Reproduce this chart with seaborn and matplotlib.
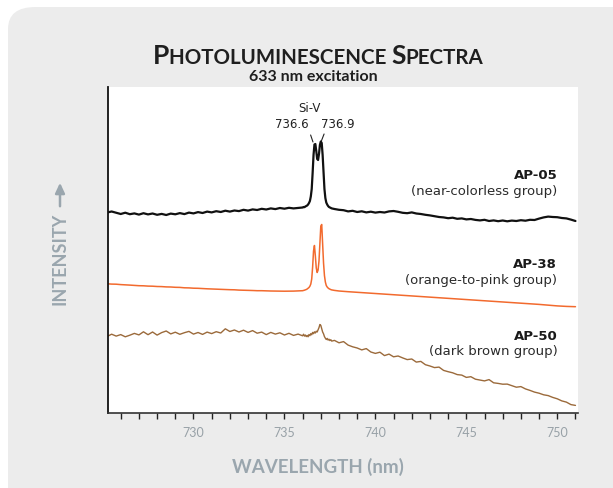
import numpy as np
import pandas as pd
import matplotlib
matplotlib.use("Agg")
import matplotlib.pyplot as plt
from matplotlib.patches import FancyBboxPatch, FancyArrowPatch
from matplotlib.ticker import MultipleLocator
import seaborn as sns

# wavelength samples (nm), finer across the Si-V doublet
wavelength = [
    725.25, 725.5, 725.75, 726.0, 726.25, 726.5, 726.75, 727.0, 727.25, 727.5, 727.75,
    728.0, 728.25, 728.5, 728.75, 729.0, 729.25, 729.5, 729.75, 730.0, 730.25, 730.5,
    730.75, 731.0, 731.25, 731.5, 731.75, 732.0, 732.25, 732.5, 732.75, 733.0, 733.25,
    733.5, 733.75, 734.0, 734.25, 734.5, 734.75, 735.0, 735.25, 735.5, 735.75,
    736.0, 736.05, 736.1, 736.15, 736.2, 736.25, 736.3, 736.35, 736.4, 736.45, 736.5,
    736.55, 736.6, 736.65, 736.7, 736.75, 736.8, 736.85, 736.9, 736.95, 737.0, 737.05,
    737.1, 737.15, 737.2, 737.25, 737.3, 737.35, 737.4, 737.45, 737.5, 737.55, 737.6,
    737.75, 738.0, 738.25, 738.5, 738.75, 739.0, 739.25, 739.5, 739.75, 740.0, 740.25,
    740.5, 740.75, 741.0, 741.25, 741.5, 741.75, 742.0, 742.25, 742.5, 742.75, 743.0,
    743.25, 743.5, 743.75, 744.0, 744.25, 744.5, 744.75, 745.0, 745.25, 745.5, 745.75,
    746.0, 746.25, 746.5, 746.75, 747.0, 747.25, 747.5, 747.75, 748.0, 748.25, 748.5,
    748.75, 749.0, 749.25, 749.5, 749.75, 750.0, 750.25, 750.5, 750.75, 751.0,
]

# intensities (arb. units, already offset for stacking)
ap05 = [
    200.5, 201.5, 200.2, 199.0, 200.3, 198.8, 199.6, 198.4, 199.8, 198.6, 199.5,
    198.2, 199.1, 198.0, 199.4, 198.7, 199.9, 198.9, 200.4, 199.6, 200.9, 200.0,
    201.4, 200.6, 201.8, 201.0, 202.3, 201.4, 202.5, 201.9, 203.2, 202.4, 203.6,
    203.0, 204.2, 203.5, 204.6, 203.9, 205.0, 204.3, 205.2, 204.6, 205.0,
    205.5, 206.0, 205.8, 206.5, 207.0, 207.5, 208.5, 210.0, 212.0, 216.5, 224.0,
    240.0, 258.0, 268.5, 269.0, 262.0, 254.0, 253.0, 259.0, 268.0, 271.5, 270.0,
    258.0, 240.0, 224.0, 215.0, 210.5, 208.5, 207.0, 206.0, 205.5, 205.0, 204.6,
    204.0, 203.2, 202.8, 201.6, 202.2, 201.0, 201.7, 200.6, 201.3, 200.4, 201.0,
    200.5, 201.6, 202.0, 201.2, 200.2, 199.8, 200.6, 199.5, 199.0, 198.2, 197.6,
    196.8, 196.0, 195.6, 194.8, 195.3, 194.2, 194.6, 193.6, 194.0, 193.1, 192.6,
    193.2, 192.0, 192.6, 191.8, 192.5, 191.7, 192.4, 192.0, 192.8, 192.3, 193.2,
    193.0, 194.4, 195.6, 196.4, 196.0, 195.8, 195.0, 194.6, 193.4, 192.0,
]

ap38 = [
    129.2, 128.9, 128.8, 128.4, 128.2, 127.9, 127.6, 127.3, 127.2, 126.9, 126.8,
    126.5, 126.4, 126.1, 126.0, 125.7, 125.6, 125.2, 125.1, 124.8, 124.7, 124.4,
    124.2, 124.0, 123.9, 123.6, 123.5, 123.3, 123.2, 122.9, 122.8, 122.6, 122.5,
    122.3, 122.3, 122.1, 122.0, 121.9, 121.9, 121.8, 121.8, 121.9, 122.1,
    122.3, 122.5, 122.8, 123.1, 123.5, 124.0, 124.7, 125.5, 126.8, 129.0, 134.0,
    146.0, 162.0, 167.5, 157.0, 145.0, 140.5, 143.0, 152.0, 170.0, 187.0, 188.5,
    170.0, 150.0, 137.5, 131.0, 127.5, 126.0, 125.0, 124.3, 123.8, 123.4, 123.1,
    122.6, 122.0, 121.6, 121.3, 121.0, 120.7, 120.4, 120.1, 119.9, 119.6, 119.3,
    119.0, 118.7, 118.4, 118.1, 117.8, 117.5, 117.2, 116.9, 116.6, 116.3, 116.0,
    115.7, 115.4, 115.1, 114.8, 114.5, 114.2, 113.9, 113.6, 113.3, 113.0, 112.7,
    112.4, 112.1, 111.8, 111.5, 111.2, 110.9, 110.6, 110.3, 110.0, 109.7, 109.4,
    109.0, 108.6, 108.2, 107.8, 107.4, 107.1, 106.8, 106.6, 106.4, 106.3,
]

ap50 = [
    76.5, 78.8, 76.9, 78.4, 76.2, 77.8, 79.6, 78.1, 81.2, 78.3, 81.0,
    77.9, 80.4, 82.0, 79.1, 80.8, 78.7, 80.3, 81.6, 78.9, 80.5, 78.6,
    80.9, 79.4, 81.3, 80.0, 84.2, 81.5, 83.0, 81.0, 82.8, 80.6, 82.4,
    79.8, 80.9, 78.4, 80.6, 78.9, 80.2, 78.0, 79.7, 77.6, 78.9,
    77.2, 78.8, 76.9, 78.0, 76.4, 77.6, 76.2, 78.5, 77.3, 79.4, 78.2,
    80.6, 79.3, 81.2, 80.0, 81.8, 81.0, 83.2, 85.4, 88.5, 87.6, 84.2,
    81.0, 79.2, 76.4, 74.8, 73.5, 74.6, 72.9, 73.8, 72.4, 73.3, 71.9,
    72.6, 70.2, 71.4, 67.9, 66.2, 65.0, 63.1, 64.4, 61.0, 59.6, 60.8,
    57.4, 58.9, 56.2, 57.0, 55.1, 53.4, 54.0, 50.9, 51.6, 48.3, 47.0,
    45.4, 45.9, 42.6, 41.3, 40.2, 38.4, 37.9, 35.6, 36.3, 33.8, 32.9,
    32.1, 33.4, 30.2, 29.6, 28.8, 28.9, 27.3, 25.8, 26.4, 24.1, 22.6,
    20.9, 19.8, 18.2, 17.4, 15.6, 14.2, 12.1, 10.9, 8.4, 7.6,
]

samples = ["AP-05", "AP-38", "AP-50"]
groups = ["(near-colorless group)", "(orange-to-pink group)", "(dark brown group)"]
colors = ["#111111", "#f26a2e", "#9b6a3b"]
peak_labels = ["736.6", "736.9"]

df = pd.concat([
    pd.DataFrame({"wavelength": wavelength, "intensity": vals, "sample": name})
    for name, vals in zip(samples, [ap05, ap38, ap50])
], ignore_index=True)

sns.set_theme(style="white")
plt.rcParams["font.family"] = ["DejaVu Sans"]

W, H = 613, 489
fig = plt.figure(figsize=(W / 100, H / 100), dpi=100)
fig.patch.set_facecolor("white")

# grey rounded panel behind everything
panel = FancyBboxPatch((8 / W, -0.1), 1.2, 1 - 8 / H + 0.1,
                       boxstyle="round,pad=0,rounding_size=0.045",
                       transform=fig.transFigure, facecolor="#ececec",
                       edgecolor="none", zorder=-10)
fig.patches.append(panel)

ax = fig.add_axes([108 / W, 1 - 414 / H, 470 / W, 326 / H])
ax.set_facecolor("white")

widths = {"AP-05": 1.6, "AP-38": 1.1, "AP-50": 1.0}
for name, col in zip(samples, colors):
    sns.lineplot(data=df[df["sample"] == name], x="wavelength", y="intensity",
                 color=col, lw=widths[name], estimator=None, sort=False, ax=ax)

ax.set_xlim(725.3, 751.14)
ax.set_ylim(0, 326)
ax.set_xlabel("")
ax.set_ylabel("")
ax.set_yticks([])
ax.xaxis.set_major_locator(MultipleLocator(5))
ax.xaxis.set_minor_locator(MultipleLocator(1))
ax.tick_params(axis="x", which="both", direction="out", length=4.5, width=1,
               color="#222222", bottom=True, pad=5)
ax.tick_params(axis="x", which="major", labelsize=9, labelcolor="#98a1a7")
for lab in ax.get_xticklabels():
    lab.set_family(["Lato", "DejaVu Sans"])

for s in ["top", "right"]:
    ax.spines[s].set_visible(False)
ax.spines["left"].set_color("#111111")
ax.spines["left"].set_linewidth(1.3)
ax.spines["bottom"].set_color("#333333")
ax.spines["bottom"].set_linewidth(1.2)

# sample labels at right
label_y = [(238.7, 223.0), (149.0, 133.5), (78.0, 62.5)]
for name, grp, (y1, y2) in zip(samples, groups, label_y):
    ax.text(750.0, y1, name, ha="right", va="center", fontsize=9.5,
            fontweight="bold", color="#1a1a1a")
    ax.text(750.0, y2, grp, ha="right", va="center", fontsize=9.5,
            color="#2a2a2a")

# Si-V doublet labels
ax.text(736.39, 305, "Si-V", ha="center", va="center", fontsize=8.5, color="#222222")
ax.text(736.33, 290, peak_labels[0], ha="right", va="center", fontsize=8.5, color="#222222")
ax.text(737.03, 290, peak_labels[1], ha="left", va="center", fontsize=8.5, color="#222222")
ax.plot([736.44, 736.57], [278, 271], color="#222222", lw=0.8)
ax.plot([737.03, 737.18], [272, 279], color="#222222", lw=0.8)

# title in small caps
title_font = ["Lato", "DejaVu Sans"]
pieces = [("P", 19), ("HOTOLUMINESCENCE ", 14.8), ("S", 19), ("PECTRA", 14.8)]
texts = [fig.text(0, 1 - 64.5 / H, s, fontsize=fs, fontweight="bold",
                  family=title_font, color="#1f1f1f", va="baseline", ha="left")
         for s, fs in pieces]
fig.canvas.draw()
rend = fig.canvas.get_renderer()
wds = [t.get_window_extent(rend).width for t in texts]
x = 318 - sum(wds) / 2
for t, w in zip(texts, wds):
    t.set_x(x / W)
    x += w

fig.text(313 / W, 1 - 81 / H, "633 nm excitation", fontsize=11.5, fontweight="bold",
         family=title_font, color="#1f1f1f", ha="center", va="baseline")

# axis labels
lab_col = "#9aa6ae"
fig.text(318 / W, 1 - 466.5 / H, "WAVELENGTH (nm)", fontsize=13.5, fontweight="bold",
         family=title_font, color=lab_col, ha="center", va="center")
fig.text(60 / W, 1 - 259 / H, "INTENSITY", fontsize=13, fontweight="bold",
         family=title_font, color=lab_col, ha="center", va="center", rotation=90)
fig.add_artist(FancyArrowPatch(
    (60 / W, 1 - 210 / H), (60 / W, 1 - 181 / H), transform=fig.transFigure,
    arrowstyle="-|>,head_length=6,head_width=2.8", color=lab_col, lw=1.8))

fig.savefig("out.png", dpi=100, facecolor=fig.get_facecolor())
